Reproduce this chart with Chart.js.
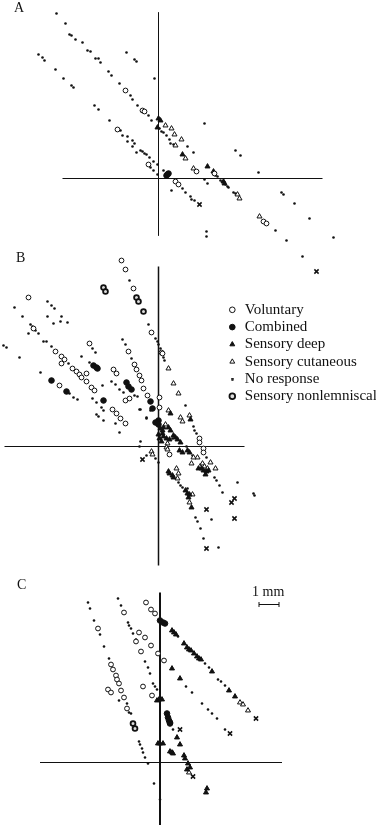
<!DOCTYPE html>
<html lang="en">

<head>
    <meta charset="UTF-8" />
    <title>Tracks A, B, C</title>
    <script src="https://cdn.jsdelivr.net/npm/chart.js"></script>
    <style>
        html, body { margin: 0; padding: 0; background: #fff; overflow: hidden; }
        #page { position: relative; width: 376px; height: 825px; overflow: hidden; }
        canvas { position: absolute; left: 0; }
        .lbl { position: absolute; font-family: "Liberation Serif", serif; color: #111; line-height: 1; }
    </style>
</head>

<body>
    <div id="page">
        <canvas id="panelA" width="376" height="280" style="top:0"></canvas>
        <canvas id="panelB" width="376" height="330" style="top:250px"></canvas>
        <canvas id="panelC" width="376" height="250" style="top:575px"></canvas>
        <canvas id="legendBox" width="153" height="125" style="left:225px;top:300px"></canvas>
        <span class="lbl" style="left:14px;top:1px;font-size:14px">A</span>
        <span class="lbl" style="left:16px;top:251px;font-size:14px">B</span>
        <span class="lbl" style="left:17px;top:578px;font-size:14px">C</span>
        <span class="lbl" style="left:252px;top:585px;font-size:14px">1 mm</span>
    </div>

    <script>
        // values are [x, y] from the crossing of the axes, 20 units = 1 mm
        const seriesNames = ["Voluntary", "Combined", "Sensory deep", "Sensory cutaneous", "No response", "Sensory nonlemniscal"];

        // panel A
        const aVoluntary = [[-33,88],[-16,68],[-14,67],[-41,49],[-10,14],[17,-3],[20,-6],[38,7],[56,5],[105,-43],[108,-45]];
        const aCombined = [[9,4],[8,3],[10,5]];
        const aDeep = [[0,60],[2,58],[24,24],[49,12],[55,7],[-1,51],[65,-3],[66,-5]];
        const aCutaneous = [[7,53],[13,50],[16,44],[23,39],[17,33],[27,20],[35,10],[79,-16],[81,-20],[101,-38]];
        const aNoResponse = [[-102,165],[-93,155],[-89,144],[-87,143],[-83,139],[-76,136],[-71,128],[-68,127],[-63,120],[-60,120],[-58,116],[-50,107],[-47,103],[-39,95],[-28,83],[-26,79],[-21,73],[-13,66],[-10,63],[-7,58],
            [-120,124],[-116,121],[-114,118],[-103,109],[-95,100],[-87,93],[-85,91],[-64,73],[-60,69],[-49,58],[-38,48],[-36,43],[-31,42],[-31,37],[-26,38],[-24,35],[-26,32],[-22,26],[-18,28],[-16,27],[-14,25],[-12,24],[-9,21],[-5,17],[-1,14],[-8,11],[-5,8],[-1,4],[5,8],[24,-10],[27,-14],[13,-12],
            [-32,126],[-24,119],[-22,117],[-4,100],[1,50],[3,47],[5,46],[8,43],[11,39],[12,35],[15,34],[29,32],[35,26],[46,55],[46,-1],[49,-5],[57,3],[59,2],[62,-2],[64,-3],[67,-6],[69,-8],[70,-9],[75,-14],[77,-15],[77,28],[82,23],[100,6],[123,-14],[125,-16],[136,-25],[151,-40],[175,-59],[144,-78],[117,-52],[128,-62],[48,-53],[48,-58],[32,-18],[33,-21],[36,-22]];
        const aNonlemniscal = [];
        const aEnds = [[41,-26],[158,-93]];
        const aAxisX = [[-96,0],[164,0]];
        const aAxisY = [[0,166],[0,-57]];

        // panel B
        const bVoluntary = [[-37,186],[-33,177],[-25,158],[-130,149],[-125,118],[-7,114],[-103,95],[-97,90],[-94,87],[-97,83],[-86,78],[-82,75],[-79,72],[-77,69],[-72,73],[-72,65],[-67,59],[-64,56],[-99,61],[-69,103],[-30,95],[-24,82],[-22,77],[-19,71],[-17,66],[-15,58],[-11,51],[-45,77],[-42,73],[-33,46],[-29,48],[-46,37],[-42,33],[-38,28],[-33,23],[1,49],[1,39],[3,94],[4,93],[41,8],[41,4],[45,-2],[45,-6],[11,-8]];
        const bCombined = [[-107,66],[-92,55],[-55,46],[-65,81],[-62,79],[-61,78],[-32,64],[-30,60],[-27,57],[-8,45],[-6,38],[0,26],[-1,24],[-3,24],[0,22]];
        const bDeep = [[2,18],[4,16],[5,19],[10,19],[12,16],[15,11],[17,9],[19,7],[4,13],[5,10],[8,8],[11,7],[22,4],[12,33],[32,27],[33,-61],[21,-4],[24,-6],[29,-4],[31,-6],[40,-22],[43,-22],[45,-24],[48,-25],[50,-24],[47,-28],[10,-25],[11,-27],[14,-29],[15,-31],[27,-44],[29,-47],[31,-48],[30,-51],[0,12],[1,8],[3,5]];
        const bCutaneous = [[10,78],[15,63],[20,53],[10,36],[22,29],[24,25],[31,31],[7,22],[9,3],[8,-1],[9,-3],[33,-17],[44,-17],[52,-16],[57,-22],[18,-22],[20,-27],[34,-48],[-7,-5],[-6,-8],[31,-56],[39,-11],[35,-11],[46,-20],[49,-22],[19,-32]];
        const bNoResponse = [[-111,145],[-107,141],[-104,138],[-144,139],[-136,130],[-111,130],[-97,130],[-105,123],[-98,125],[-91,124],[-128,122],[-126,120],[-123,116],[-120,113],[-130,113],[-115,105],[-112,105],[-107,100],[-155,101],[-152,99],[-139,89],[-118,74],[-77,90],[-66,98],[-63,94],[-69,84],[-36,107],[-33,102],[-27,88],[-29,166],[-10,122],[-3,108],[-1,105],[0,102],[2,98],[5,89],[6,86],
            [-89,53],[-85,49],[-81,47],[-66,48],[-62,44],[-57,39],[-55,36],[-62,32],[-60,30],[-55,26],[-43,23],[-39,14],[-18,5],[-56,61],[-47,65],[-43,62],[-39,57],[-35,54],[-24,51],[-21,50],[-18,37],[-12,28],[-90,83],
            [27,41],[35,20],[36,16],[38,13],[48,-11],[56,-31],[58,-34],[61,-39],[64,-46],[79,-36],[96,-49],[95,-47],[53,-73],[37,-71],[39,-75],[42,-82],[45,-92],[60,-101],[-12,-9],[-19,0],[-3,-12],[0,-16],[-12,29],[-19,37],[-8,36],
            [20,-36],[22,-39],[24,-41],[29,-42],[14,8],[28,0],[34,-9],[42,-18]];
        const bNonlemniscal = [[-55,159],[-53,155],[-22,149],[-20,145],[-15,135]];
        const bEnds = [[-16,-13],[73,-56],[76,-52],[48,-63],[76,-72],[48,-102]];
        const bAxisX = [[-154,0],[86,0]];
        const bAxisY = [[0,180],[0,-119]];

        // panel C
        const cVoluntary = [[-62,134],[-49,98],[-47,93],[-44,87],[-43,83],[-41,79],[-39,72],[-52,73],[-49,70],[-36,65],[-33,54],[-36,150],[-21,130],[-24,121],[-15,125],[-9,117],[-19,111],[-14,160],[-9,153],[-5,149],[-2,109],[4,102],[-17,76],[-8,67]];
        const cCombined = [[0,142],[3,140],[5,139],[10,40],[8,45],[9,42],[7,49],[10,39]];
        const cDeep = [[12,94],[20,84],[-1,63],[-3,62],[2,63],[17,25],[20,18],[0,19],[-2,19],[3,19],[12,10],[10,11],[13,9],[24,7],[25,4],[28,-1],[30,-5],[27,-7],[47,-26],[46,-30],[12,132],[14,130],[16,128],[24,119],[27,115],[29,113],[31,112],[34,109],[37,106],[39,104],[41,103],[52,91],[69,72],[75,66]];
        const cCutaneous = [[80,60],[83,58],[88,52],[29,-10]];
        const cNoResponse = [[-72,160],[-70,154],[-66,142],[-60,128],[-56,116],[-51,104],[-41,62],[-33,59],[-31,50],[-29,49],[-42,164],[-39,157],[-32,140],[-31,137],[-29,134],[-27,129],[-24,123],[-15,101],[-12,95],[-10,89],[-7,79],[-5,76],[-3,73],
            [18,126],[45,99],[49,95],[58,83],[61,81],[65,77],[26,76],[32,70],[42,59],[48,53],[52,49],[57,44],[65,33],[13,33],
            [-21,21],[-20,18],[-18,14],[-17,10],[-15,5],[-12,-1],[-6,-21],[0,-37]];
        const cNonlemniscal = [[-27,39],[-25,34]];
        const cEnds = [[96,44],[70,29],[20,33],[33,-14]];
        const cAxisX = [[-120,0],[122,0]];
        const cAxisY = [[0,170],[0,-63]];
        const scaleBar = [[99,158],[119,158]];

        const ink = "#111";
        const markStyles = [
            { pointStyle: "circle", pointRadius: 2.4, borderWidth: 1, backgroundColor: "#fff", borderColor: ink },
            { pointStyle: "circle", pointRadius: 2.8, borderWidth: 1, backgroundColor: ink, borderColor: ink },
            { pointStyle: "triangle", pointRadius: 2.9, borderWidth: 1, backgroundColor: ink, borderColor: ink },
            { pointStyle: "triangle", pointRadius: 2.9, borderWidth: 1, backgroundColor: "#fff", borderColor: ink },
            { pointStyle: "circle", pointRadius: 1.3, borderWidth: 0, backgroundColor: ink, borderColor: ink },
            { pointStyle: "circle", pointRadius: 2.4, borderWidth: 1.8, backgroundColor: "#ddd", borderColor: ink }
        ];

        function lineSet(data, width) {
            return { type: "line", data, borderColor: ink, borderWidth: width, pointRadius: 0, order: 9 };
        }

        function drawPanel(id, left, top, series, ends, axisX, axisY, axisWidth, extra) {
            const canvas = document.getElementById(id);
            const datasets = series.map((data, i) => ({ label: seriesNames[i], data, clip: false, ...markStyles[i] }));
            datasets.push({ label: "ends", data: ends, pointStyle: "crossRot", pointRadius: 3, borderWidth: 1.5, borderColor: ink, clip: false });
            datasets.push(lineSet(axisX, 1), lineSet(axisY, axisWidth));
            if (extra) datasets.push(...extra);

            new Chart(canvas, {
                type: "scatter",
                data: { datasets },
                options: {
                    responsive: false,
                    animation: false,
                    plugins: { legend: { display: false }, tooltip: { enabled: false } },
                    layout: { padding: 0, autoPadding: false },
                    scales: {
                        x: { type: "linear", display: false, min: -left, max: canvas.width - left },
                        y: { type: "linear", display: false, max: top, min: top - canvas.height }
                    }
                }
            });
        }

        drawPanel("panelA", 158.5, 178.5, [aVoluntary, aCombined, aDeep, aCutaneous, aNoResponse, aNonlemniscal], aEnds, aAxisX, aAxisY, 1);
        drawPanel("panelB", 158.5, 196.5, [bVoluntary, bCombined, bDeep, bCutaneous, bNoResponse, bNonlemniscal], bEnds, bAxisX, bAxisY, 1.5);
        drawPanel("panelC", 160, 187.5, [cVoluntary, cCombined, cDeep, cCutaneous, cNoResponse, cNonlemniscal], cEnds, cAxisX, cAxisY, 2, [
            { type: "line", data: scaleBar, borderColor: ink, borderWidth: 1, pointStyle: "line", rotation: 90, pointRadius: 2.5, pointBorderWidth: 1, pointBorderColor: ink }
        ]);

        // the legend sizes every mark alike, so the small dot needs its own little image
        const smallDot = document.createElement("canvas");
        smallDot.width = 3;
        smallDot.height = 3;
        const dotCtx = smallDot.getContext("2d");
        dotCtx.fillStyle = ink;
        dotCtx.beginPath();
        dotCtx.arc(1.5, 1.5, 1.4, 0, Math.PI * 2);
        dotCtx.fill();

        new Chart(document.getElementById("legendBox"), {
            type: "scatter",
            data: {
                datasets: seriesNames.map((label, i) => ({
                    label,
                    data: [],
                    ...markStyles[i],
                    ...(i === 4 ? { pointStyle: smallDot } : {})
                }))
            },
            options: {
                responsive: false,
                animation: false,
                layout: { autoPadding: false },
                scales: { x: { display: false }, y: { display: false } },
                plugins: {
                    tooltip: { enabled: false },
                    legend: {
                        position: "top",
                        align: "start",
                        maxWidth: 153,
                        maxHeight: 125,
                        onClick: null,
                        labels: {
                            usePointStyle: true,
                            boxWidth: 10,
                            boxHeight: 4,
                            padding: 2.3,
                            color: ink,
                            font: { family: "Liberation Serif", size: 15 }
                        }
                    }
                }
            }
        });
    </script>
</body>

</html>
